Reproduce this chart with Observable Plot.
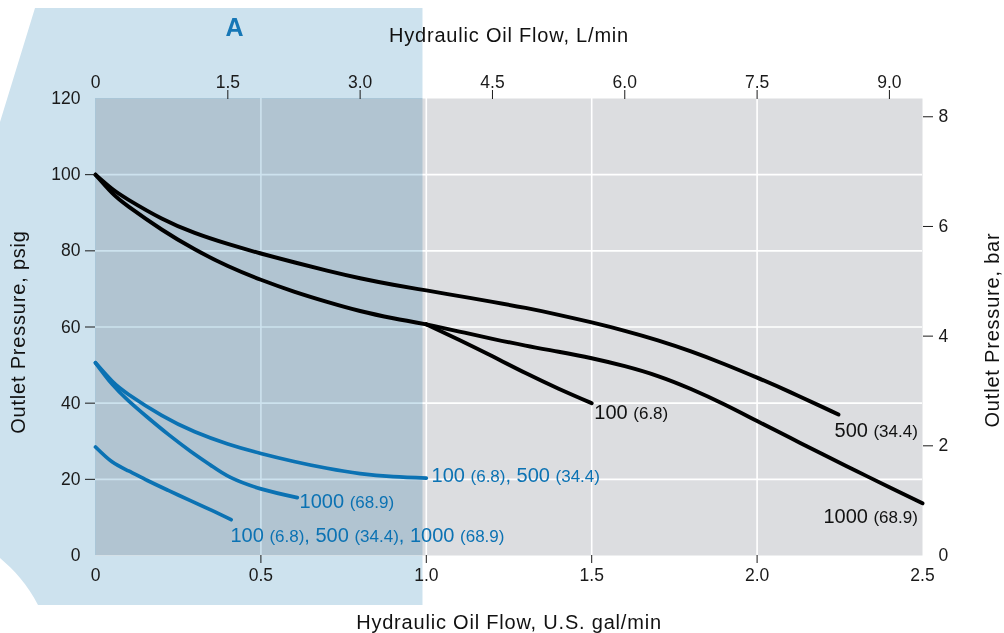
<!DOCTYPE html>
<html>
<head>
<meta charset="utf-8">
<script src="https://cdn.jsdelivr.net/npm/d3@7"></script>
<script src="https://cdn.jsdelivr.net/npm/@observablehq/plot@0.6"></script>
<style>
  html, body { margin: 0; padding: 0; background: #fff; }
  #wrap { position: relative; width: 1004px; height: 633px; overflow: hidden; }
  #bg, #chart { position: absolute; left: 0; top: 0; }
</style>
</head>
<body>
<div id="wrap">
  <svg id="bg" width="1004" height="633"></svg>
  <div id="chart"></div>
</div>
<script>
// ---------- axis ticks ----------
const galTicks = [0.5, 1.0, 1.5, 2.0];
const galEnds = [0, 2.5];
const lpmTicks = [1.5, 3.0, 4.5, 6.0, 7.5, 9.0];
const lpmEnds = [0];
const psiTicks = [20, 40, 60, 80, 100];
const psiEnds = [0, 120];
const barTicks = [2, 4, 6, 8];
const barEnds = [0];
const L_PER_GAL = 3.75;
const PSI_PER_BAR = 14.4;

// ---------- region A (gal/min) ----------
const regionA = {from: 0, to: 0.99};

// ---------- black curves (gal/min, psig) ----------
const black500X = [0, 0.05, 0.1, 0.2, 0.3, 0.4, 0.5, 0.6, 0.7, 0.8, 0.9, 1.0, 1.1, 1.2, 1.3, 1.4, 1.5, 1.6, 1.7, 1.8, 1.9, 2.0, 2.1, 2.2, 2.246];
const black500Y = [100, 96.3, 93.4, 88.5, 84.7, 81.8, 79.3, 77, 74.8, 72.8, 71.1, 69.6, 68.1, 66.6, 65, 63.2, 61.2, 59, 56.5, 53.6, 50.3, 46.7, 42.9, 38.9, 37];
// shared part of the 100 and 1000 curves
const blackSharedX = [0, 0.05, 0.1, 0.2, 0.3, 0.4, 0.5, 0.6, 0.7, 0.8, 0.9, 1.0];
const blackSharedY = [100, 95.2, 91.6, 85.6, 80.4, 76, 72.4, 69.3, 66.6, 64.2, 62.3, 60.7];
const black100X = [1.0, 1.1, 1.2, 1.3, 1.4, 1.5];
const black100Y = [60.7, 56.6, 52.3, 47.9, 43.8, 40];
const black1000X = [1.0, 1.1, 1.2, 1.3, 1.4, 1.5, 1.6, 1.7, 1.8, 1.9, 2.0, 2.1, 2.2, 2.3, 2.4, 2.5];
const black1000Y = [60.7, 58.8, 56.9, 55.1, 53.5, 51.8, 49.7, 47.1, 43.7, 39.7, 35.3, 30.9, 26.5, 22.2, 17.9, 13.7];

// ---------- blue curves ----------
const blue100_500X = [0, 0.05, 0.1, 0.2, 0.3, 0.4, 0.5, 0.6, 0.7, 0.8, 0.9, 1.0];
const blue100_500Y = [50.6, 45.8, 42.3, 36.8, 32.5, 29.3, 26.8, 24.7, 22.9, 21.5, 20.7, 20.3];
const blue1000X = [0, 0.05, 0.1, 0.157, 0.22, 0.287, 0.35, 0.408, 0.5, 0.61];
const blue1000Y = [50.6, 45, 40.6, 36.3, 31.8, 27.4, 23.6, 20.5, 17.5, 15.2];
const blueAllX = [0, 0.05, 0.1, 0.157, 0.22, 0.287, 0.35, 0.41];
const blueAllY = [28.5, 24.6, 22.2, 19.7, 17.1, 14.4, 11.9, 9.4];

// ---------- curve labels (x = where the text starts or ends) ----------
const blackStartText = ["100 (6.8)"];
const blackStartX = [1.508];
const blackStartY = [37.4];
const blackEndText = ["500 (34.4)", "1000 (68.9)"];
const blackEndX = [2.486, 2.486];
const blackEndY = [32.9, 10.3];
const blueLabelText = ["100 (6.8), 500 (34.4)", "1000 (68.9)", "100 (6.8), 500 (34.4), 1000 (68.9)"];
const blueLabelX = [1.016, 0.617, 0.408];
const blueLabelY = [21, 14.2, 5.1];

// ---------- titles ----------
const titleTop = "Hydraulic Oil Flow, L/min";
const titleBottom = "Hydraulic Oil Flow, U.S. gal/min";
const titleLeft = "Outlet Pressure, psig";
const titleRight = "Outlet Pressure, bar";
const regionLabel = "A";

// build tables
const toRows = (xs, ys, series) => xs.map((x, i) => ({x, y: ys[i], series}));
const blackRows = [
  ...toRows(black500X, black500Y, "500"),
  ...toRows(blackSharedX, blackSharedY, "shared"),
  ...toRows(black100X, black100Y, "100"),
  ...toRows(black1000X, black1000Y, "1000")
];
const blueRows = [
  ...toRows(blue100_500X, blue100_500Y, "100/500"),
  ...toRows(blue1000X, blue1000Y, "1000"),
  ...toRows(blueAllX, blueAllY, "all")
];
const toLabels = (ts, xs, ys) => ts.map((t, i) => ({t, x: xs[i], y: ys[i]}));
const blackStart = toLabels(blackStartText, blackStartX, blackStartY);
const blackEnd = toLabels(blackEndText, blackEndX, blackEndY);
const blueLabels = toLabels(blueLabelText, blueLabelX, blueLabelY);

const BLUE = "#0b72b3";
const LIGHTBLUE = "#cde2ee";
const FONT = "'Liberation Sans', Arial, Helvetica, sans-serif";

const chart = Plot.plot({
  width: 1004,
  height: 633,
  marginLeft: 95,
  marginRight: 82,
  marginTop: 98,
  marginBottom: 78,
  x: {domain: [0, 2.5], label: null},
  y: {domain: [0, 120], label: null},
  style: {fontFamily: FONT, fontSize: "17.5px", background: "transparent", color: "#1a1a1a", overflow: "visible"},
  marks: [
    Plot.frame({fill: "#dcdde0", stroke: "none"}),
    Plot.gridX({ticks: galTicks, stroke: "white", strokeOpacity: 1, strokeWidth: 1.6}),
    Plot.gridY({ticks: psiTicks, stroke: "white", strokeOpacity: 1, strokeWidth: 1.6}),
    Plot.rect([regionA], {x1: "from", x2: "to", y1: () => 0, y2: () => 120, fill: LIGHTBLUE, mixBlendMode: "multiply"}),
    Plot.line(blueRows, {x: "x", y: "y", z: "series", stroke: BLUE, strokeWidth: 3.7, curve: "natural", strokeLinecap: "round", strokeLinejoin: "round"}),
    Plot.line(blackRows, {x: "x", y: "y", z: "series", stroke: "#000", strokeWidth: 3.9, curve: "natural", strokeLinecap: "round", strokeLinejoin: "round"}),
    Plot.text(blackStart, {x: "x", y: "y", text: "t", textAnchor: "start", fill: "#111", fontSize: 20, lineAnchor: "middle"}),
    Plot.text(blackEnd, {x: "x", y: "y", text: "t", textAnchor: "end", fill: "#111", fontSize: 20, lineAnchor: "middle"}),
    Plot.text(blueLabels, {x: "x", y: "y", text: "t", textAnchor: "start", fill: BLUE, fontSize: 20, lineAnchor: "middle"}),
    // axes
    Plot.axisX({anchor: "bottom", ticks: galTicks, tickSize: 8, tickPadding: 5, tickFormat: d => d.toFixed(1), label: null}),
    Plot.axisX({anchor: "bottom", ticks: galEnds, tickSize: 0, tickPadding: 13, tickFormat: d => d === 0 ? "0" : d.toFixed(1), label: null}),
    Plot.axisX({anchor: "top", ticks: lpmTicks.map(v => v / L_PER_GAL), tickSize: 9, tickPadding: 2, tickFormat: d => (d * L_PER_GAL).toFixed(1), label: null}),
    Plot.axisX({anchor: "top", ticks: lpmEnds.map(v => v / L_PER_GAL), tickSize: 0, tickPadding: 11, tickFormat: d => "0", label: null}),
    Plot.axisY({anchor: "left", ticks: psiTicks, tickSize: 10, tickPadding: 5, tickFormat: d => String(d), label: null}),
    Plot.axisY({anchor: "left", ticks: psiEnds, tickSize: 0, tickPadding: 15, tickFormat: d => String(d), label: null}),
    Plot.axisY({anchor: "right", ticks: barTicks.map(b => b * PSI_PER_BAR), tickSize: 10, tickPadding: 6, tickFormat: d => String(Math.round(d / PSI_PER_BAR)), label: null}),
    Plot.axisY({anchor: "right", ticks: barEnds.map(b => b * PSI_PER_BAR), tickSize: 0, tickPadding: 16, tickFormat: d => String(Math.round(d / PSI_PER_BAR)), label: null}),
    // titles
    Plot.text([titleTop], {frameAnchor: "top", dy: -63, text: d => d, fontSize: 20, textAnchor: "middle", lineAnchor: "middle", fill: "#111"}),
    Plot.text([titleBottom], {frameAnchor: "bottom", dy: 67, text: d => d, fontSize: 20, textAnchor: "middle", lineAnchor: "middle", fill: "#111"}),
    Plot.text([titleLeft], {frameAnchor: "left", dx: -77, dy: 5, rotate: -90, text: d => d, fontSize: 20, textAnchor: "middle", lineAnchor: "middle", fill: "#111"}),
    Plot.text([titleRight], {frameAnchor: "right", dx: 70, dy: 3, rotate: -90, text: d => d, fontSize: 20, textAnchor: "middle", lineAnchor: "middle", fill: "#111"}),
    Plot.text([regionLabel], {frameAnchor: "top-left", dx: 139, dy: -71, text: d => d, fontSize: 25, fontWeight: "bold", textAnchor: "middle", lineAnchor: "middle", fill: "#1677b6"})
  ]
});

document.getElementById("chart").appendChild(chart);

// letter spacing for titles, smaller parenthetical parts for curve labels
chart.querySelectorAll("text").forEach(t => {
  const s = t.textContent;
  if (s === titleTop || s === titleBottom || s === titleLeft || s === titleRight) {
    t.setAttribute("letter-spacing", "0.8");
  }
  if (s.includes("(") && t.children.length === 0) {
    const parts = s.split(/(\([^)]*\))/).filter(p => p.length);
    t.textContent = "";
    parts.forEach(p => {
      const ts = document.createElementNS("http://www.w3.org/2000/svg", "tspan");
      ts.textContent = p;
      if (p.startsWith("(")) ts.setAttribute("font-size", "17");
      t.appendChild(ts);
    });
  }
});

// decorative light-blue band behind region A
const xs = chart.scale("x");
const right = xs.apply(regionA.to);
const bg = d3.select("#bg");
bg.append("path")
  .attr("d", `M35,8 L${right},8 L${right},605 L38,605 C28,585 14,570 0,558 L0,122 Z`)
  .attr("fill", LIGHTBLUE);
</script>
</body>
</html>
